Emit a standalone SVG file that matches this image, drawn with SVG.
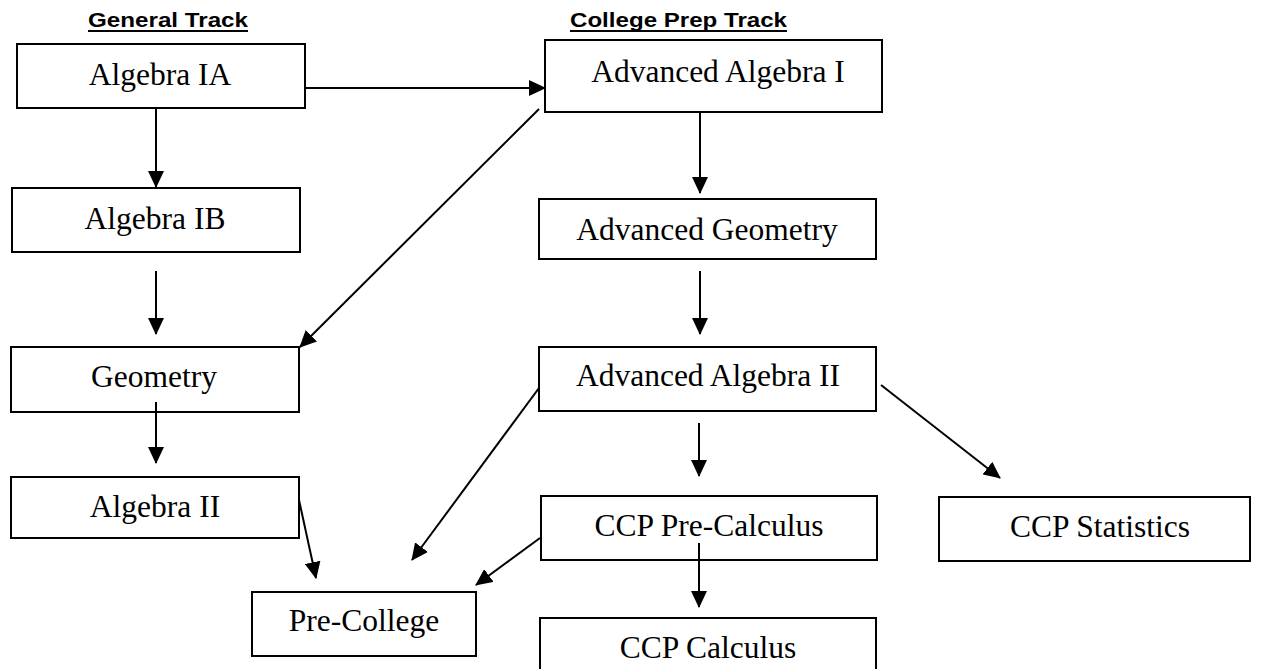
<svg xmlns="http://www.w3.org/2000/svg" width="1268" height="669" viewBox="0 0 1268 669">
<style>
.box{fill:#fff;stroke:#000;stroke-width:2}
.lbl{font-family:"Liberation Serif","Times New Roman",serif;font-size:31.5px;fill:#000;text-anchor:middle}
.hd{font-family:"Liberation Sans",Arial,sans-serif;font-size:21px;font-weight:bold;fill:#000;text-anchor:middle}
.ul{stroke:#000;stroke-width:2}
.cn{stroke:#000;stroke-width:2;fill:none;marker-end:url(#ah)}
</style>
<defs>
<marker id="ah" markerUnits="userSpaceOnUse" markerWidth="17" markerHeight="16" refX="16" refY="8" orient="auto">
<path d="M0,0 L17,8 L0,16 Z" fill="#000"/>
</marker>
</defs>
<rect width="1268" height="669" fill="#fff"/>
<g id="headings">
<text class="hd" x="168" y="27" textLength="160" lengthAdjust="spacingAndGlyphs">General Track</text>
<line class="ul" x1="88" y1="31" x2="248" y2="31"/>
<text class="hd" x="678.5" y="27" textLength="217" lengthAdjust="spacingAndGlyphs">College Prep Track</text>
<line class="ul" x1="570" y1="31" x2="787" y2="31"/>
</g>
<g id="algebra-ia"><rect class="box" x="17" y="44" width="288" height="64"/><text class="lbl" x="160" y="85">Algebra IA</text></g>
<g id="algebra-ib"><rect class="box" x="12" y="188" width="288" height="64"/><text class="lbl" x="155" y="229">Algebra IB</text></g>
<g id="geometry"><rect class="box" x="11" y="347" width="288" height="65"/><text class="lbl" x="154" y="387">Geometry</text></g>
<g id="algebra-ii"><rect class="box" x="11" y="477" width="288" height="61"/><text class="lbl" x="155" y="517">Algebra II</text></g>
<g id="pre-college"><rect class="box" x="252" y="592" width="224" height="64"/><text class="lbl" x="364" y="631">Pre-College</text></g>
<g id="adv-algebra-i"><rect class="box" x="545" y="40" width="337" height="72"/><text class="lbl" x="718" y="82">Advanced Algebra I</text></g>
<g id="adv-geometry"><rect class="box" x="539" y="199" width="337" height="60"/><text class="lbl" x="707" y="240">Advanced Geometry</text></g>
<g id="adv-algebra-ii"><rect class="box" x="539" y="347" width="337" height="64"/><text class="lbl" x="708" y="386">Advanced Algebra II</text></g>
<g id="ccp-pre-calculus"><rect class="box" x="541" y="496" width="336" height="64"/><text class="lbl" x="709" y="536">CCP Pre-Calculus</text></g>
<g id="ccp-statistics"><rect class="box" x="939" y="497" width="311" height="64"/><text class="lbl" x="1100" y="537">CCP Statistics</text></g>
<g id="ccp-calculus"><rect class="box" x="540" y="618" width="336" height="70"/><text class="lbl" x="708" y="658">CCP Calculus</text></g>
<g id="connectors">
<line class="cn" x1="156" y1="108" x2="156" y2="187"/>
<line class="cn" x1="305" y1="88" x2="545" y2="88"/>
<line class="cn" x1="156" y1="271" x2="156" y2="334"/>
<line class="cn" x1="539" y1="109" x2="300" y2="347"/>
<line class="cn" x1="156" y1="402" x2="156" y2="463"/>
<line class="cn" x1="700" y1="112" x2="700" y2="193"/>
<line class="cn" x1="700" y1="271" x2="700" y2="334"/>
<line class="cn" x1="539" y1="388" x2="412" y2="560"/>
<line class="cn" x1="881" y1="385" x2="1000" y2="478"/>
<line class="cn" x1="699" y1="423" x2="699" y2="476"/>
<line class="cn" x1="299" y1="500" x2="316" y2="578"/>
<line class="cn" x1="540" y1="538" x2="476" y2="585"/>
<line class="cn" x1="699" y1="543" x2="699" y2="607"/>
</g>
</svg>
